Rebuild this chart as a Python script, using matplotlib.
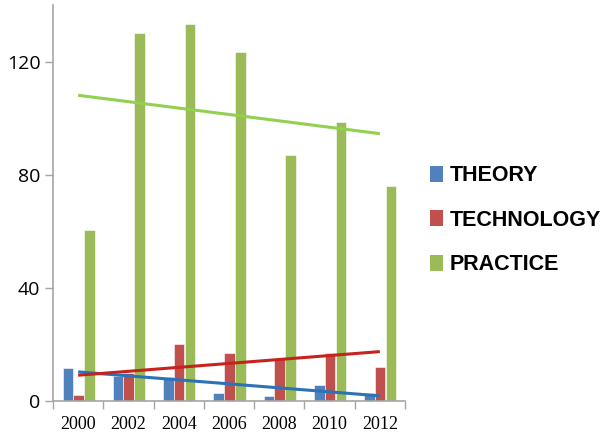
import numpy as np
import matplotlib
matplotlib.use('Agg')
import matplotlib.pyplot as plt
from matplotlib.patches import Patch

# data
years = ['2000', '2002', '2004', '2006', '2008', '2010', '2012']
theory = [11.5, 9, 8.6, 3, 1.8, 5.8, 2.7]
technology = [2, 10, 20, 17, 15, 17, 12]
practice = [60.5, 130.2, 133.4, 123.5, 87, 98.5, 76]

bar_colors = ['#4F81BD', '#C0504D', '#9BBB59']
line_colors = ['#2C72B8', '#C8221C', '#92D050']
names = ['THEORY', 'TECHNOLOGY', 'PRACTICE']

fig = plt.figure(figsize=(6.06, 4.38), dpi=100)
ax = fig.add_axes([53 / 606, 37 / 438, 352 / 606, 396 / 438])

x = np.arange(len(years))
w = 0.21
offsets = [-0.205, 0.005, 0.225]
series = [theory, technology, practice]
for vals, off, c in zip(series, offsets, bar_colors):
    ax.bar(x + off, vals, width=w, color=c, edgecolor='white', linewidth=0.4)

# linear trend lines
for vals, c in zip(series, line_colors):
    k, b = np.polyfit(x, vals, 1)
    ax.plot(x, k * x + b, color=c, linewidth=2.2, solid_capstyle='butt')

ax.set_xlim(-0.5, len(years) - 0.5)
ax.set_ylim(0, 140)
ax.set_yticks([0, 40, 80, 120])
ax.set_yticklabels(['0', '40', '80', '120'], fontsize=14, family='Open Sans')

ax.set_xticks(x)
ax.set_xticklabels(years, fontsize=13, family='Liberation Serif')
ax.set_xticks(np.arange(-0.5, len(years)), minor=True)
ax.tick_params(axis='x', which='major', length=0, pad=11)
ax.tick_params(axis='x', which='minor', length=6, color='#A6A6A6', width=1)
ax.tick_params(axis='y', length=6, color='#A6A6A6', width=1, pad=3)

for s in ['top', 'right']:
    ax.spines[s].set_visible(False)
for s in ['left', 'bottom']:
    ax.spines[s].set_color('#A6A6A6')
    ax.spines[s].set_linewidth(1.2)

handles = [Patch(facecolor=c) for c in bar_colors]
leg = fig.legend(handles, names, loc='center left', bbox_to_anchor=(0.677, 0.497),
                 frameon=False, handlelength=0.62, handleheight=0.75,
                 handletextpad=0.3, labelspacing=1.1,
                 prop={'family': 'Liberation Sans', 'weight': 'bold', 'size': 15.5})

fig.savefig('out.png', dpi=100)
